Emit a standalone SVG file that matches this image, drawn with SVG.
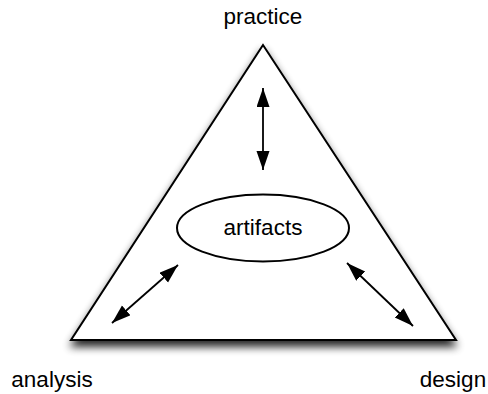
<svg xmlns="http://www.w3.org/2000/svg" width="488" height="394" viewBox="0 0 488 394">
  <style>
    .label { font-family: "Liberation Sans", Arial, sans-serif; font-size: 22.5px; fill: #000; text-anchor: middle; }
    .shape { fill: #fff; stroke: #000; stroke-width: 2; }
    .link { fill: none; stroke: #000; stroke-width: 1.8; marker-start: url(#head); marker-end: url(#head); }
  </style>
  <defs>
    <filter id="shadow" x="-20%" y="-20%" width="140%" height="140%">
      <feGaussianBlur in="SourceAlpha" stdDeviation="4"/>
      <feOffset dx="0" dy="6" result="b"/>
      <feComponentTransfer><feFuncA type="linear" slope="0.85"/></feComponentTransfer>
      <feMerge><feMergeNode/><feMergeNode in="SourceGraphic"/></feMerge>
    </filter>
    <marker id="head" markerUnits="userSpaceOnUse" markerWidth="20" markerHeight="14" refX="19" refY="6.5" orient="auto-start-reverse">
      <path d="M0,0 L19,6.5 L0,13 z" fill="#000"/>
    </marker>
  </defs>

  <rect width="488" height="394" fill="#fff"/>

  <g id="triangle">
    <polygon class="shape" points="263,45 71,340 456,340" filter="url(#shadow)"/>
  </g>

  <g id="artifacts">
    <ellipse class="shape" cx="263" cy="228" rx="86" ry="33.5"/>
    <text class="label" x="263" y="235">artifacts</text>
  </g>

  <g id="practice">
    <text class="label" x="263" y="24">practice</text>
  </g>
  <g id="analysis">
    <text class="label" x="52" y="387">analysis</text>
  </g>
  <g id="design">
    <text class="label" x="453" y="387">design</text>
  </g>

  <g id="connectors">
    <line class="link" x1="263" y1="88" x2="263" y2="170"/>
    <line class="link" x1="178" y1="265" x2="112" y2="323"/>
    <line class="link" x1="347" y1="263" x2="413" y2="326"/>
  </g>
</svg>
